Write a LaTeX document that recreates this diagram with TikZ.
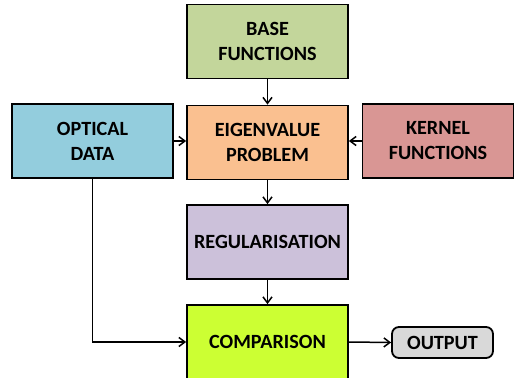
\documentclass[tikz,border=0pt]{standalone}
\usepackage{fontspec}
\setmainfont{Carlito}
\usetikzlibrary{arrows.meta}
\definecolor{cbase}{HTML}{C3D69B}
\definecolor{ceig}{HTML}{FAC090}
\definecolor{copt}{HTML}{93CDDD}
\definecolor{cker}{HTML}{D99694}
\definecolor{creg}{HTML}{CCC1DA}
\definecolor{ccmp}{HTML}{CCFF33}
\definecolor{cout}{HTML}{D9D9D9}
\begin{document}
\begin{tikzpicture}[x=1pt,y=-1pt,
  lbl/.style={font=\fontsize{20.2}{25}\selectfont\bfseries},
  box/.style={draw=black,line width=1.8pt,minimum width=161pt,minimum height=74pt,
    align=center,lbl,inner sep=0pt},
  conn/.style={line width=1.5pt,-{Straight Barb[length=6pt,width=9pt,line width=1.5pt]}}]
\useasboundingbox (0,0) rectangle (515,378);
\clip (0,0) rectangle (515,378);
\node[box,fill=cbase] (base) at (267.5,41.5) {BASE\\FUNCTIONS};
\node[box,fill=ceig] (eig) at (267.5,142.5) {EIGENVALUE\\PROBLEM};
\node[box,fill=copt] (opt) at (92.5,141) {OPTICAL\\DATA};
\node[box,fill=cker,minimum width=151pt] (ker) at (438,141) {KERNEL\\FUNCTIONS};
\node[box,fill=creg] (reg) at (267.5,242) {REGULARISATION};
\node[box,fill=ccmp,minimum height=80pt] (cmp) at (267.5,345) {};
\node[lbl] (cmpt) at (267.5,342) {COMPARISON};
\node[draw=black,line width=1.8pt,fill=cout,rounded corners=7pt,minimum width=101pt,
  minimum height=31pt,inner sep=0pt,lbl] (out) at (442.5,342.5) {OUTPUT};
\coordinate (cmpin) at (cmp.west |- cmpt);
\coordinate (cmpout) at (cmp.east |- cmpt);
\draw[conn] (base) -- (eig);
\draw[conn] (opt.east) -- (eig.west |- opt.east);
\draw[conn] (ker.west) -- (eig.east |- ker.west);
\draw[conn] (eig) -- (reg);
\draw[conn] (reg.south) -- (cmp.north);
\draw[conn] (opt.south) |- (cmpin);
\draw[conn] (cmpout) -- (out.west);
\end{tikzpicture}
\end{document}
